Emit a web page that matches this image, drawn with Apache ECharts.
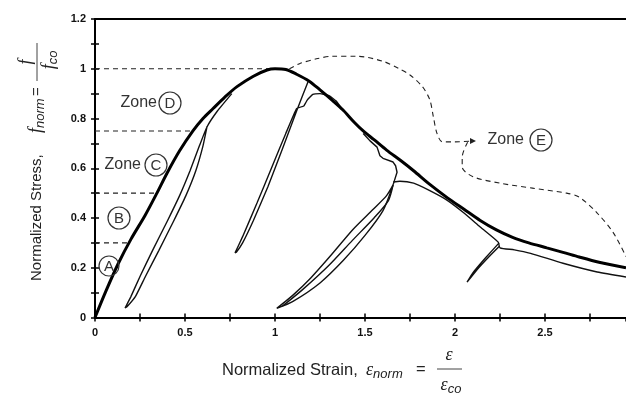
<!DOCTYPE html>
<html><head><meta charset="utf-8">
<script src="https://cdn.jsdelivr.net/npm/echarts@6/dist/echarts.min.js"></script>
<style>html,body{margin:0;padding:0;background:#fff}#c{width:626px;height:396px}</style>
</head><body><div id="c"></div>
<script>
// ---- data (normalized strain, normalized stress) ----
var envelope = [[0,0],[0.06,0.105],[0.128,0.215],[0.2,0.315],[0.278,0.41],[0.344,0.5],[0.4,0.58],[0.47,0.67],[0.544,0.75],[0.6,0.8],[0.656,0.84],[0.72,0.885],[0.789,0.928],[0.88,0.97],[0.956,0.995],[1.0,1.0],[1.06,0.997],[1.12,0.978],[1.19,0.95],[1.25,0.915],[1.32,0.872],[1.378,0.834],[1.44,0.785],[1.49,0.75],[1.55,0.715],[1.62,0.673],[1.7,0.63],[1.77,0.59],[1.86,0.535],[1.96,0.48],[2.05,0.435],[2.14,0.39],[2.23,0.352],[2.32,0.322],[2.41,0.3],[2.51,0.28],[2.6,0.262],[2.69,0.243],[2.8,0.222],[2.95,0.2]];
var loop1 = [[0.622,0.766],[0.6,0.69],[0.56,0.59],[0.505,0.49],[0.435,0.385],[0.355,0.27],[0.28,0.165],[0.225,0.085],[0.18,0.045],[0.167,0.038],[0.2,0.085],[0.25,0.165],[0.32,0.27],[0.4,0.385],[0.47,0.49],[0.528,0.59],[0.58,0.69],[0.622,0.766],[0.68,0.83],[0.76,0.9]];
var loop2 = [[1.183,0.947],[1.12,0.83],[1.04,0.675],[0.96,0.525],[0.88,0.39],[0.82,0.3],[0.785,0.262],[0.778,0.26],[0.82,0.325],[0.9,0.46],[0.98,0.6],[1.06,0.74],[1.12,0.84],[1.16,0.85]];
var reload2 = [[1.16,0.85],[1.18,0.875],[1.21,0.897],[1.25,0.9],[1.3,0.892],[1.34,0.87],[1.38,0.83]];
var loop3 = [[1.656,0.533],[1.62,0.49],[1.544,0.434],[1.433,0.354],[1.306,0.246],[1.2,0.16],[1.1,0.09],[1.01,0.037],[1.1,0.065],[1.25,0.139],[1.38,0.23],[1.5,0.33],[1.6,0.43],[1.656,0.533]];
var loop3inner = [[1.04,0.045],[1.15,0.11],[1.3,0.21],[1.43,0.31],[1.55,0.4],[1.63,0.47],[1.656,0.533]];
var jag3 = [[1.656,0.533],[1.678,0.584],[1.67,0.61],[1.656,0.625],[1.6,0.64],[1.583,0.65],[1.567,0.685],[1.528,0.71],[1.49,0.74]];
var postPeak3 = [[1.656,0.544],[1.694,0.548],[1.77,0.54],[1.86,0.51],[1.955,0.472],[2.05,0.42],[2.14,0.364],[2.24,0.303],[2.25,0.28],[2.33,0.272],[2.42,0.258],[2.6,0.218],[2.79,0.183],[2.95,0.163]];
var loop4 = [[2.245,0.3],[2.17,0.24],[2.1,0.18],[2.067,0.142],[2.12,0.19],[2.19,0.245],[2.245,0.285]];
var zoneEBoundaryA = [[1.08,1.0],[1.139,1.021],[1.23,1.04],[1.32,1.05],[1.455,1.05],[1.6,1.03],[1.69,1.0],[1.75,0.975],[1.82,0.927],[1.86,0.875],[1.88,0.806],[1.9,0.74],[1.93,0.706],[2.0,0.706],[2.1,0.71]];
var zoneEBoundaryB = [[2.07,0.705],[2.04,0.645],[2.04,0.605],[2.1,0.566],[2.25,0.54],[2.43,0.52],[2.62,0.5],[2.69,0.484],[2.79,0.42],[2.88,0.34],[2.95,0.245]];
var zoneLimit100 = [[0,1.0],[1.0,1.0]];
var zoneLimit075 = [[0,0.75],[0.544,0.75]];
var zoneLimit050 = [[0,0.5],[0.344,0.5]];
var zoneLimit030 = [[0,0.3],[0.195,0.3]];

var chart = echarts.init(document.getElementById('c'));
function thick(d){return {type:'line',data:d,symbol:'none',smooth:0.3,lineStyle:{color:'#000',width:3},z:5};}
function thin(d,s){return {type:'line',data:d,symbol:'none',smooth:s===undefined?0.2:s,lineStyle:{color:'#111',width:1.4},z:4};}
function dash(d,s){return {type:'line',data:d,symbol:'none',smooth:s||0,lineStyle:{color:'#222',width:1.1,type:[5,4]},z:3};}

var axisFont = {fontFamily:'Liberation Sans',fontWeight:'bold',fontSize:11,color:'#111'};
var lineSt = {show:true,lineStyle:{color:'#000',width:2}};
function xfmt(v){return Math.abs(v*2-Math.round(v*2))<1e-6 ? String(+v.toFixed(2)) : '';}
function yfmt(v){var k=Math.round(v*10);return (Math.abs(v*10-k)<1e-6 && k%2===0) ? String(+v.toFixed(1)) : '';}

function circled(letter,cx,cy,r){
  return [{type:'circle',shape:{cx:cx,cy:cy,r:r},style:{fill:'rgba(255,255,255,0)',stroke:'#333',lineWidth:1.2},z:10},
          {type:'text',x:cx,y:cy+1,style:{text:letter,fontFamily:'Liberation Sans',fontSize:15,fill:'#333',align:'center',verticalAlign:'middle'},z:10}];
}
function zoneText(x,y){return {type:'text',x:x,y:y,style:{text:'Zone',fontFamily:'Liberation Sans',fontSize:16,fill:'#333',align:'right',verticalAlign:'middle'},z:10};}
var serifI = {fontFamily:'Liberation Serif',fontStyle:'italic',fontSize:18,fill:'#222'};
var subI = {fontFamily:'Liberation Sans',fontStyle:'italic',fontSize:13,fill:'#222',padding:[8,0,0,0]};

var g = [];
g.push(zoneText(157,103)); g = g.concat(circled('D',170,103,11));
g.push(zoneText(141,165)); g = g.concat(circled('C',156,165,11));
g = g.concat(circled('B',119,218,11));
g = g.concat(circled('A',109,266,10));
g.push(zoneText(524,140)); g = g.concat(circled('E',541,140,11));

// x axis title
g.push({type:'text',x:222,y:370,style:{text:'Normalized Strain,',fontFamily:'Liberation Sans',fontSize:16.5,fill:'#222',align:'left',verticalAlign:'middle'},z:10});
g.push({type:'text',x:366,y:370,style:{text:'{e|ε}{s|norm}',align:'left',verticalAlign:'middle',rich:{e:serifI,s:subI}},z:10});
g.push({type:'text',x:416,y:369,style:{text:'=',fontFamily:'Liberation Sans',fontSize:16.5,fill:'#222',align:'left',verticalAlign:'middle'},z:10});
g.push({type:'line',shape:{x1:437,y1:369,x2:462,y2:369},style:{stroke:'#444',lineWidth:1},z:10});
g.push({type:'text',x:449,y:355,style:{text:'ε',fontFamily:'Liberation Serif',fontStyle:'italic',fontSize:18,fill:'#222',align:'center',verticalAlign:'middle'},z:10});
g.push({type:'text',x:451,y:385,style:{text:'{e|ε}{s|co}',align:'center',verticalAlign:'middle',rich:{e:serifI,s:subI}},z:10});

// y axis title (rotated group; local x runs upward)
g.push({type:'group',x:37,y:281,rotation:Math.PI/2,z:10,children:[
  {type:'text',x:0,y:0,style:{text:'Normalized Stress,',fontFamily:'Liberation Sans',fontSize:15,fill:'#222',align:'left',verticalAlign:'middle'}},
  {type:'text',x:148,y:-1,style:{text:'{f|f}{s|norm}',align:'left',verticalAlign:'middle',rich:{f:serifI,s:subI}}},
  {type:'text',x:185,y:0,style:{text:'=',fontFamily:'Liberation Sans',fontSize:15,fill:'#222',align:'left',verticalAlign:'middle'}},
  {type:'line',shape:{x1:200,y1:0,x2:238,y2:0},style:{stroke:'#444',lineWidth:1}},
  {type:'text',x:219,y:-11,style:{text:'f',fontFamily:'Liberation Serif',fontStyle:'italic',fontSize:18,fill:'#222',align:'center',verticalAlign:'middle'}},
  {type:'text',x:221,y:12,style:{text:'{f|f}{s|co}',align:'center',verticalAlign:'middle',rich:{f:serifI,s:subI}}}
]});

var zoneEArrowTip = zoneEBoundaryA[zoneEBoundaryA.length-1];

chart.setOption({
  animation:false,
  backgroundColor:'#fff',
  grid:{left:95,right:0,top:19,bottom:78.5,containLabel:false},
  xAxis:[
    {type:'value',position:'bottom',min:0,max:2.95,interval:0.25,axisLine:lineSt,axisTick:{show:true,inside:true,length:4,lineStyle:{color:'#000',width:1.5}},
     axisLabel:Object.assign({margin:10,formatter:xfmt,showMaxLabel:false},axisFont),splitLine:{show:false}},
    {type:'value',position:'bottom',min:0,max:2.95,interval:0.25,axisLine:{show:false},axisTick:{show:true,inside:false,length:4,lineStyle:{color:'#000',width:1.5}},
     axisLabel:{show:false},splitLine:{show:false}},
    {type:'value',position:'top',min:0,max:2.95,axisLine:lineSt,axisTick:{show:false},axisLabel:{show:false},splitLine:{show:false}}
  ],
  yAxis:[
    {type:'value',position:'left',min:0,max:1.2,interval:0.1,axisLine:lineSt,axisTick:{show:true,inside:false,length:4,lineStyle:{color:'#000',width:1.5}},
     axisLabel:Object.assign({margin:9,formatter:yfmt},axisFont),splitLine:{show:false}},
    {type:'value',position:'left',min:0,max:1.2,interval:0.1,axisLine:{show:false},axisTick:{show:true,inside:true,length:4,lineStyle:{color:'#000',width:1.5}},
     axisLabel:{show:false},splitLine:{show:false}}
  ],
  series:[
    dash(zoneLimit100),dash(zoneLimit075),dash(zoneLimit050),dash(zoneLimit030),
    Object.assign(dash(zoneEBoundaryA,0.3),{markPoint:{symbol:'triangle',symbolSize:[6,6],symbolRotate:-90,itemStyle:{color:'#222'},label:{show:false},silent:true,data:[{coord:zoneEArrowTip}]}}),
    dash(zoneEBoundaryB,0.3),
    thin(loop1,0.15),thin(loop2,0.1),thin(reload2,0.1),thin(loop3,0.25),thin(loop3inner,0.25),thin(jag3,0),thin(postPeak3,0.2),thin(loop4,0.1),
    thick(envelope)
  ],
  graphic:g
});
</script></body></html>
